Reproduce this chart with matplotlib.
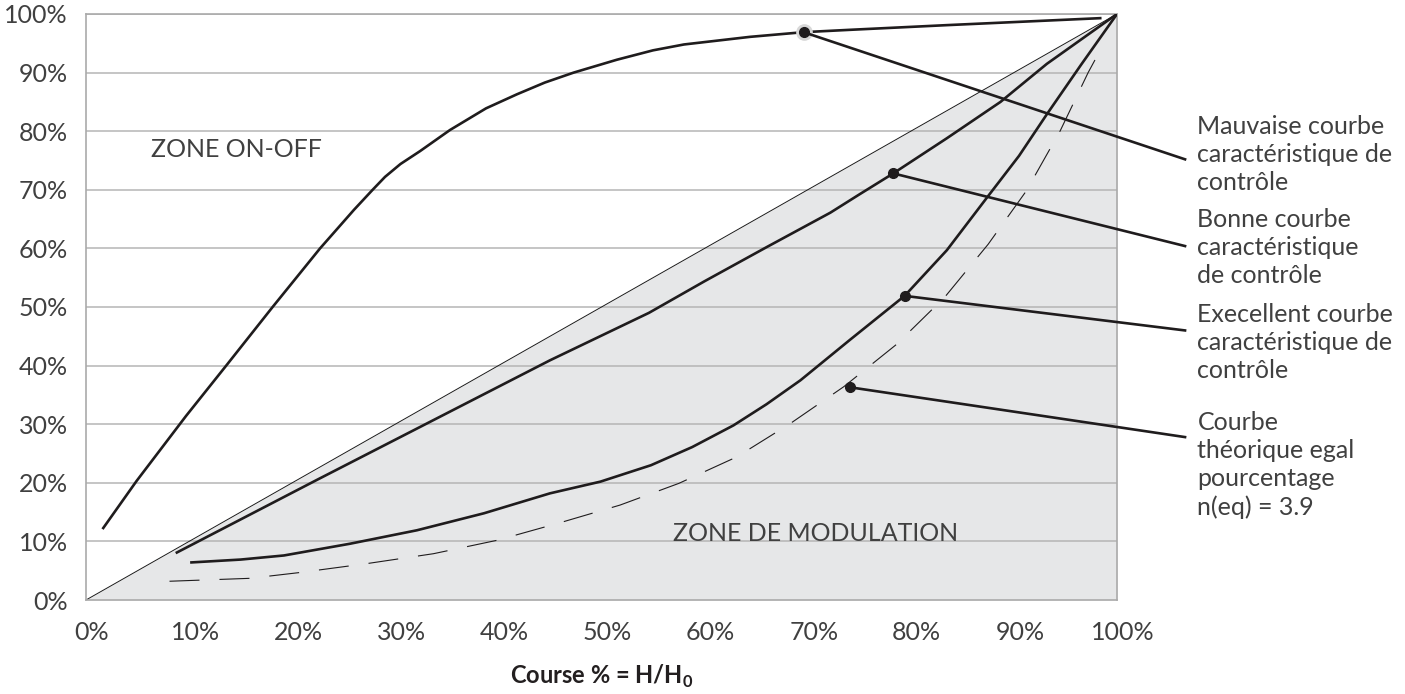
import matplotlib.pyplot as plt
from matplotlib.transforms import ScaledTranslation

plt.rcParams['font.family'] = ['Lato', 'DejaVu Sans']
plt.rcParams['mathtext.fontset'] = 'custom'
plt.rcParams['mathtext.bf'] = 'Lato:bold'

# courbes (en %)
mauvaise_x = [1.6, 4.9, 9.7, 13.6, 18.1, 22.7, 26.0, 27.8, 29.0, 30.5, 32.4, 35.3, 38.8,
              41.8, 44.5, 47.3, 51.5, 55.0, 58.0, 64.4, 69.6, 74.1, 83.5, 98.5]
mauvaise_y = [12.1, 20.3, 31.4, 40.0, 50.0, 60.0, 66.6, 70.0, 72.2, 74.4, 76.6, 80.2, 83.9,
              86.3, 88.3, 90.0, 92.2, 93.8, 94.8, 96.1, 96.9, 97.3, 98.1, 99.3]

bonne_x = [8.7, 22.4, 33.7, 45.0, 54.6, 60.0, 66.0, 72.2, 75.0, 78.3, 83.5, 88.7, 93.2, 100]
bonne_y = [8.0, 20.5, 30.7, 40.9, 49.0, 54.4, 60.2, 66.1, 69.2, 72.8, 78.8, 85.0, 91.5, 100]

excellent_x = [10.1, 15.0, 19.2, 25.6, 32.1, 38.6, 45.0, 49.9, 54.8, 58.8, 62.8, 66.0, 69.3,
               74.1, 79.4, 83.5, 87.4, 90.5, 93.2, 96.5, 100]
excellent_y = [6.4, 6.9, 7.6, 9.6, 11.9, 14.8, 18.2, 20.2, 23.0, 26.1, 29.8, 33.4, 37.5,
               44.4, 51.9, 59.7, 68.7, 75.8, 82.9, 91.3, 100]

theorique_x = [8.1, 15.9, 20.8, 27.2, 33.7, 39.9, 46.0, 51.8, 57.5, 63.1, 68.3, 73.5,
               78.6, 83.3, 87.5, 91.2, 94.5, 97.2, 98.0]
theorique_y = [3.2, 3.7, 4.7, 6.2, 7.9, 10.2, 13.2, 16.2, 19.9, 24.4, 30.1, 36.4,
               43.6, 51.7, 60.7, 69.8, 80.1, 90.0, 92.6]

# points repères et libellés
marker_x = [69.6, 78.3, 79.4, 74.1]
marker_y = [96.9, 72.8, 51.9, 36.3]
leader_end_y = [75.2, 60.4, 46.0, 27.8]
label_y = [76.0, 60.1, 44.0, 23.0]
labels = [
    'Mauvaise courbe\ncaractéristique de\ncontrôle',
    'Bonne courbe\ncaractéristique\nde contrôle',
    'Execellent courbe\ncaractéristique de\ncontrôle',
    'Courbe\nthéorique egal\npourcentage\nn(eq) = 3.9',
]

ticks = [0, 10, 20, 30, 40, 50, 60, 70, 80, 90, 100]
tick_labels = [f'{t}%' for t in ticks]

TXT = '#404040'
GRID = '#b5b5b5'
FS = 18

fig = plt.figure(figsize=(14.05, 6.94), dpi=100)
ax = fig.add_axes([86 / 1405, 94 / 694, 1031 / 1405, 586 / 694])

# zone de modulation (sous la diagonale)
ax.fill_between([0, 100], [0, 0], [0, 100], color='#e6e7e8', lw=0, zorder=0)
for t in ticks[1:]:
    ax.axhline(t, color=GRID, lw=1.1, zorder=1)
ax.plot([0, 100], [0, 100], color='#1a1a1a', lw=0.7, zorder=2)

kw = dict(color='#1f1c1d', lw=1.9, zorder=3, solid_capstyle='butt', solid_joinstyle='round')
ax.plot(mauvaise_x, mauvaise_y, **kw)
ax.plot(bonne_x, bonne_y, **kw)
ax.plot(excellent_x, excellent_y, **kw)
ax.plot(theorique_x, theorique_y, color='#1f1c1d', lw=0.8, dashes=(27, 18), zorder=3)

# repères + traits vers les libellés
ax.plot(marker_x[0], marker_y[0], 'o', ms=11, color='#d8d8d8', zorder=4)
for mx, my, ly, ty, txt in zip(marker_x, marker_y, leader_end_y, label_y, labels):
    ax.plot([mx, 106.6], [my, ly], color='#1f1c1d', lw=1.9, clip_on=False, zorder=4)
    ax.plot(mx, my, 'o', ms=7, color='#1f1c1d', zorder=5)
    ax.text(107.8, ty, txt, fontsize=FS, color=TXT,
            ha='left', va='center', linespacing=1.27, clip_on=False)

ax.text(6.3, 76.8, 'ZONE ON-OFF', fontsize=FS, color=TXT, va='center')
ax.text(56.9, 11.3, 'ZONE DE MODULATION', fontsize=FS, color=TXT, va='center')

ax.set_xlim(0, 100)
ax.set_ylim(0, 100)
ax.set_xticks(ticks)
ax.set_xticklabels(tick_labels)
ax.set_yticks(ticks)
ax.set_yticklabels(tick_labels)
ax.tick_params(length=0, labelsize=FS, labelcolor=TXT)
ax.tick_params(axis='y', pad=13)
ax.tick_params(axis='x', pad=15)
shift = ScaledTranslation(6 / 100, 0, fig.dpi_scale_trans)
for lab in ax.get_xticklabels():
    lab.set_transform(lab.get_transform() + shift)
for s in ax.spines.values():
    s.set_color('#aaaaaa')
    s.set_linewidth(1.2)

fig.text(602 / 1405, 1 - 676 / 694, r'Course % = H/H$_\mathbf{0}$', fontsize=FS - 1,
         fontweight='bold', color='#231f20', ha='center', va='center')

fig.savefig('out.png', dpi=100)
